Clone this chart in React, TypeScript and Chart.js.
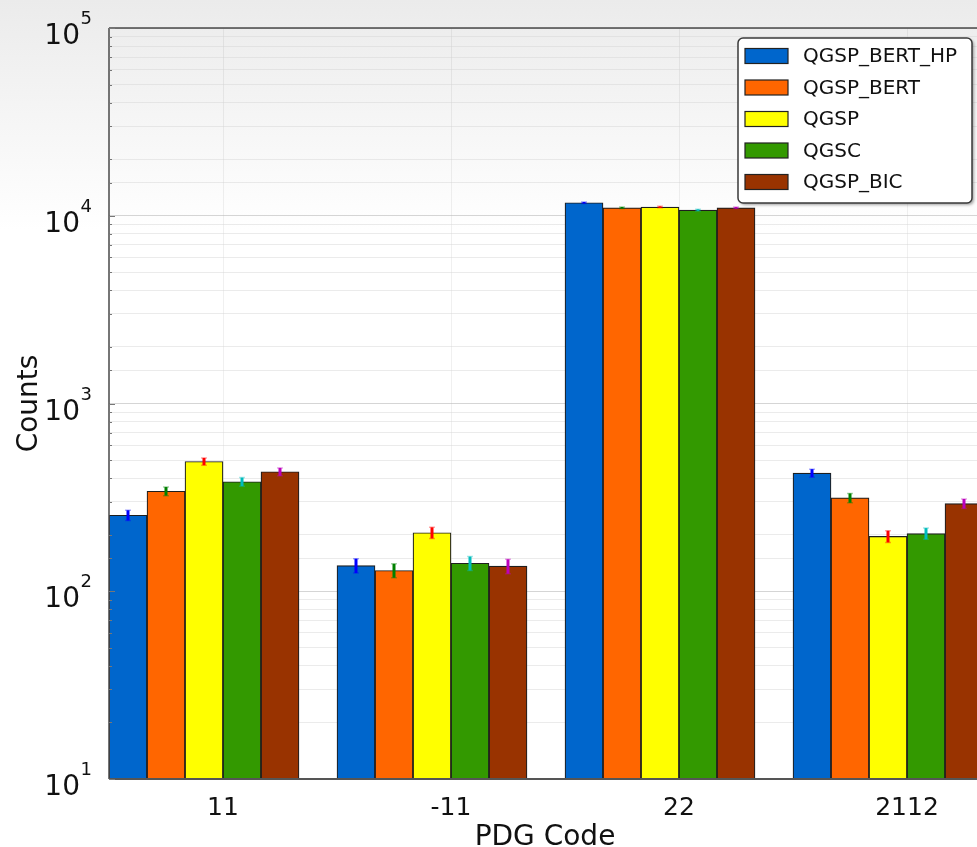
import React, { useEffect, useRef } from 'react';
import { Chart, registerables } from 'chart.js';

Chart.register(...registerables);

// PDG particle codes along the x axis
const pdgCodes = ['11', '-11', '22', '2112'];

// Physics lists compared
const physicsLists = ['QGSP_BERT_HP', 'QGSP_BERT', 'QGSP', 'QGSC', 'QGSP_BIC'];

// Counts per PDG code for each physics list
const qgspBertHpCounts = [254, 137, 11730, 426];
const qgspBertCounts = [341, 129, 11030, 314];
const qgspCounts = [491, 205, 11120, 196];
const qgscCounts = [383, 141, 10720, 203];
const qgspBicCounts = [433, 136, 11030, 293];

// Statistical uncertainties on the counts
const qgspBertHpErrors = [16, 12, 108, 21];
const qgspBertErrors = [18, 11, 105, 18];
const qgspErrors = [22, 14, 105, 14];
const qgscErrors = [20, 12, 104, 14];
const qgspBicErrors = [21, 12, 105, 17];

// Decades labelled on the y axis
const yTickPowers = [1, 2, 3, 4, 5];

const seriesCounts = [qgspBertHpCounts, qgspBertCounts, qgspCounts, qgscCounts, qgspBicCounts];
const seriesErrors = [qgspBertHpErrors, qgspBertErrors, qgspErrors, qgscErrors, qgspBicErrors];
const barColors = ['#0066cc', '#ff6600', '#ffff00', '#339900', '#993300'];
const errorColors = ['#0000ff', '#008000', '#ff0000', '#00bcbc', '#bc00bc'];

const FONT = '"DejaVu Sans", "Liberation Sans", sans-serif';

const isDecade = (v: number) => {
  const l = Math.log10(v);
  return Math.abs(l - Math.round(l)) < 1e-6;
};

// Paints the soft grey-to-white backdrop behind everything
const backdropPlugin = {
  id: 'backdrop',
  beforeDraw(chart: any) {
    const { ctx, width, height } = chart;
    ctx.save();
    const g = ctx.createLinearGradient(0, 0, 0, 230);
    g.addColorStop(0, '#ebebeb');
    g.addColorStop(1, '#ffffff');
    ctx.fillStyle = g;
    ctx.fillRect(0, 0, width, height);
    ctx.restore();
  },
};

// Vertical error bars centred on each bar top
const errorBarPlugin = {
  id: 'errorBars',
  afterDatasetsDraw(chart: any) {
    const { ctx } = chart;
    const yScale = chart.scales.y;
    ctx.save();
    seriesCounts.forEach((counts, di) => {
      const meta = chart.getDatasetMeta(di);
      meta.data.forEach((bar: any, i: number) => {
        const v = counts[i];
        const e = seriesErrors[di][i];
        if (v == null) return;
        const x = bar.x;
        const yTop = yScale.getPixelForValue(v + e);
        const yBot = yScale.getPixelForValue(v - e);
        ctx.strokeStyle = errorColors[di];
        ctx.globalAlpha = 1;
        ctx.lineWidth = 3;
        ctx.beginPath();
        ctx.moveTo(x, yTop);
        ctx.lineTo(x, yBot);
        ctx.stroke();
        ctx.globalAlpha = 0.35;
        ctx.lineWidth = 1.5;
        ctx.beginPath();
        ctx.moveTo(x - 3, yTop);
        ctx.lineTo(x + 3, yTop);
        ctx.moveTo(x - 3, yBot);
        ctx.lineTo(x + 3, yBot);
        ctx.stroke();
      });
    });
    ctx.restore();
  },
};

// Frame, axis decorations, titles and the legend box
const decorPlugin = {
  id: 'decor',
  afterDraw(chart: any) {
    const { ctx, chartArea } = chart;
    const { left, right, top, bottom } = chartArea;
    const yScale = chart.scales.y;
    ctx.save();

    // frame lines
    ctx.strokeStyle = '#4a4a4a';
    ctx.lineWidth = 1.5;
    ctx.beginPath();
    ctx.moveTo(left, top);
    ctx.lineTo(right, top);
    ctx.moveTo(left, top);
    ctx.lineTo(left, bottom);
    ctx.stroke();
    ctx.strokeStyle = '#555555';
    ctx.lineWidth = 2;
    ctx.beginPath();
    ctx.moveTo(left, bottom);
    ctx.lineTo(right, bottom);
    ctx.stroke();

    // small inward ticks on the left axis
    ctx.strokeStyle = '#777777';
    ctx.lineWidth = 1;
    yScale.ticks.forEach((t: any) => {
      const y = Math.round(yScale.getPixelForValue(t.value)) + 0.5;
      const len = isDecade(t.value) ? 6 : 3;
      ctx.beginPath();
      ctx.moveTo(left, y);
      ctx.lineTo(left + len, y);
      ctx.stroke();
    });

    // decade labels with superscript exponents
    ctx.fillStyle = '#111111';
    yTickPowers.forEach((p) => {
      const y = yScale.getPixelForValue(Math.pow(10, p));
      ctx.font = `28px ${FONT}`;
      ctx.textAlign = 'right';
      ctx.textBaseline = 'alphabetic';
      ctx.fillText('10', 80, y + 16);
      ctx.font = `18px ${FONT}`;
      ctx.textAlign = 'left';
      ctx.fillText(String(p), 80.5, y - 4);
    });

    // axis titles
    ctx.font = `28px ${FONT}`;
    ctx.textAlign = 'center';
    ctx.textBaseline = 'alphabetic';
    ctx.fillText('PDG Code', 545, 845);
    ctx.save();
    ctx.translate(37, (top + bottom) / 2);
    ctx.rotate(-Math.PI / 2);
    ctx.fillText('Counts', 0, 0);
    ctx.restore();

    // legend box
    const bx = 738, by = 38, bw = 234, bh = 165, r = 5;
    ctx.save();
    ctx.shadowColor = 'rgba(0,0,0,0.35)';
    ctx.shadowOffsetX = 2;
    ctx.shadowOffsetY = 2;
    ctx.shadowBlur = 3;
    ctx.fillStyle = '#ffffff';
    ctx.beginPath();
    ctx.roundRect(bx, by, bw, bh, r);
    ctx.fill();
    ctx.restore();
    ctx.strokeStyle = '#3a3a3a';
    ctx.lineWidth = 1.5;
    ctx.beginPath();
    ctx.roundRect(bx, by, bw, bh, r);
    ctx.stroke();

    physicsLists.forEach((name, i) => {
      const cy = 56 + i * 31.5;
      ctx.fillStyle = barColors[i];
      ctx.fillRect(745, cy - 7.5, 43, 15);
      ctx.strokeStyle = '#222222';
      ctx.lineWidth = 1.2;
      ctx.strokeRect(745, cy - 7.5, 43, 15);
      ctx.fillStyle = '#111111';
      ctx.font = `20px ${FONT}`;
      ctx.textAlign = 'left';
      ctx.textBaseline = 'middle';
      ctx.fillText(name, 803, cy + 1);
    });

    ctx.restore();
  },
};

export default function App() {
  const canvasRef = useRef<HTMLCanvasElement | null>(null);

  useEffect(() => {
    const canvas = canvasRef.current;
    if (!canvas) return;

    const datasets: any[] = physicsLists.map((name, i) => ({
      label: name,
      data: seriesCounts[i],
      backgroundColor: barColors[i],
      borderColor: '#1e1e1e',
      borderWidth: 1.2,
      barPercentage: 1,
      categoryPercentage: 1,
    }));
    // empty slot that leaves the gap after each group
    datasets.push({
      label: '',
      data: pdgCodes.map(() => null),
      backgroundColor: 'rgba(0,0,0,0)',
      borderWidth: 0,
      barPercentage: 1,
      categoryPercentage: 1,
    });

    const chart = new Chart(canvas, {
      type: 'bar',
      data: { labels: pdgCodes, datasets },
      options: {
        animation: false,
        responsive: false,
        devicePixelRatio: 1,
        layout: { padding: { left: 109, right: 9, top: 28, bottom: 10 } },
        plugins: {
          legend: { display: false },
          tooltip: { enabled: false },
        },
        scales: {
          x: {
            type: 'category',
            offset: true,
            grid: {
              display: true,
              offset: false,
              drawTicks: false,
              color: 'rgba(0,0,0,0.06)',
              lineWidth: 1,
            },
            border: { display: false },
            ticks: {
              color: '#111111',
              font: { family: FONT, size: 25 },
              padding: 14,
            },
          },
          y: {
            type: 'logarithmic',
            min: 10,
            max: 100000,
            z: 1,
            grid: {
              drawTicks: false,
              color: (c: any) =>
                c.tick && isDecade(c.tick.value) ? 'rgba(185,185,185,0.6)' : 'rgba(210,210,210,0.45)',
              lineWidth: 1,
            },
            border: { display: false },
            ticks: { display: false },
          },
        },
      },
      plugins: [backdropPlugin, errorBarPlugin, decorPlugin],
    });

    return () => chart.destroy();
  }, []);

  return (
    <div
      style={{
        position: 'fixed',
        left: 0,
        top: 0,
        width: 977,
        height: 847,
        overflow: 'hidden',
        background: '#ffffff',
      }}
    >
      <canvas ref={canvasRef} width={1030} height={847} style={{ display: 'block' }} />
    </div>
  );
}
